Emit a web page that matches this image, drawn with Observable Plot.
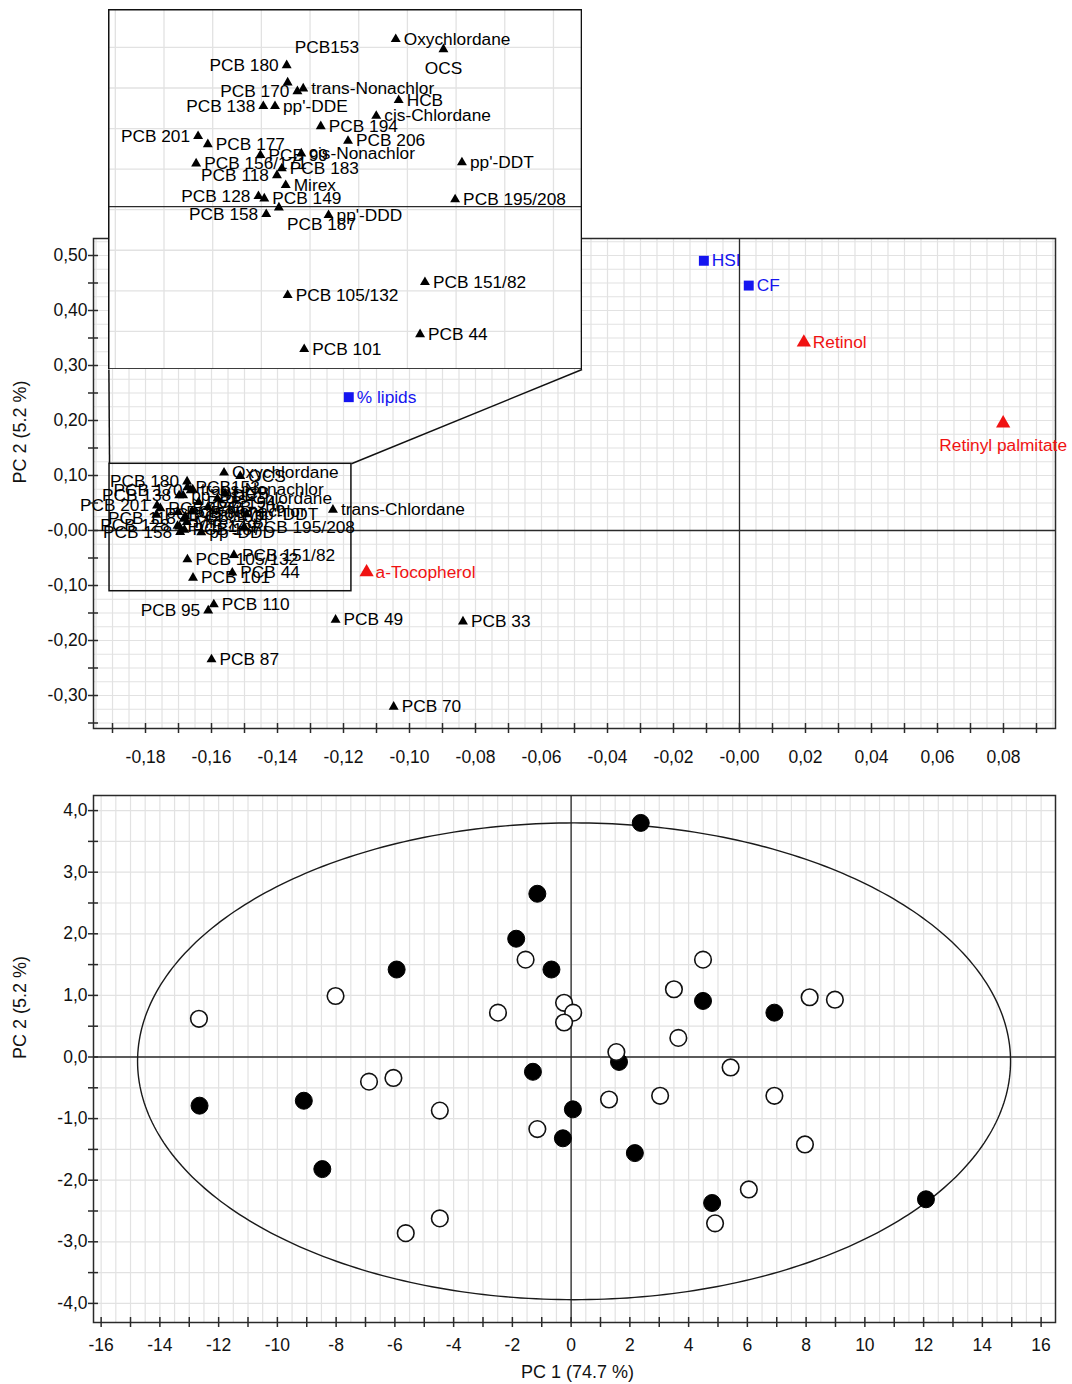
<!DOCTYPE html>
<html>
<head>
<meta charset="utf-8">
<script src="https://cdn.jsdelivr.net/npm/d3@7"></script>
<script src="https://cdn.jsdelivr.net/npm/@observablehq/plot@0.6"></script>
<style>
  body { margin: 0; background: #fff; }
  #wrap { position: relative; width: 1072px; height: 1384px; overflow: hidden; }
  #top, #inset, #bottom { position: absolute; }
  #top { left: 0; top: 0; }
  #bottom { left: 0; top: 775px; }
</style>
</head>
<body>
<div id="wrap"><div id="top"></div><div id="inset"></div><div id="bottom"></div></div>
<script>
// ---------------- DATA ----------------
// Loadings: clustered organochlorines (shown in the inset)
const clusterNames = ["Oxychlordane","OCS","PCB 180","PCB153","PCB 170","trans-Nonachlor","PCB 138","pp'-DDE","HCB","cis-Chlordane","PCB 194","PCB 206","PCB 201","PCB 177","PCB 156/171","PCB 99","cis-Nonachlor","PCB 118","PCB 183","Mirex","PCB 128","PCB 149","PCB 187","PCB 158","pp'-DDD","pp'-DDT","PCB 195/208","PCB 105/132","PCB 151/82","PCB 44","PCB 101"];
const clusterPC1 = [-0.1562,-0.1513,-0.1674,-0.1673,-0.1663,-0.1657,-0.1698,-0.1686,-0.1559,-0.1582,-0.1639,-0.1611,-0.1765,-0.1755,-0.1767,-0.1701,-0.1659,-0.1684,-0.1679,-0.1675,-0.1703,-0.1697,-0.1682,-0.1695,-0.1631,-0.1494,-0.1501,-0.1673,-0.1532,-0.1537,-0.1656];
const clusterPC2 = [0.1051,0.0989,0.0890,0.0784,0.0730,0.0747,0.0638,0.0638,0.0675,0.0578,0.0514,0.0424,0.0453,0.0403,0.0284,0.0336,0.0346,0.0212,0.0254,0.0151,0.0083,0.0069,0.0013,-0.0028,-0.0034,0.0291,0.0063,-0.0527,-0.0447,-0.0768,-0.0860];
const clusterInsetSide = ["r","b","l","ar","l","r","l","r","r","r","r","r","l","r","r","r","r","l","r","r","l","r","br","l","r","r","r","r","r","r","r"];
// Loadings: other organochlorines
const otherNames = ["trans-Chlordane","PCB 95","PCB 110","PCB 49","PCB 33","PCB 87","PCB 70"];
const otherPC1 = [-0.1232,-0.1610,-0.1593,-0.1224,-0.0838,-0.1600,-0.1048];
const otherPC2 = [0.0376,-0.1455,-0.1345,-0.1624,-0.1655,-0.2345,-0.3206];
const otherSide = ["r","l","r","r","r","r","r"];
// Loadings: biometric variables (blue squares)
const bioNames = ["HSI","CF","% lipids"];
const bioPC1 = [-0.0108,0.0028,-0.1184];
const bioPC2 = [0.4904,0.4453,0.2424];
// Loadings: vitamins (red triangles)
const vitNames = ["Retinol","Retinyl palmitate","a-Tocopherol"];
const vitPC1 = [0.0195,0.0799,-0.1130];
const vitPC2 = [0.3420,0.1949,-0.0758];
const vitSide = ["r","b","r"];

// Zoom box (main chart) and inset placement, in loading units
const zoomBoxPC1 = [-0.1909, -0.1176];
const zoomBoxPC2 = [-0.1104, 0.1213];
const insetPlacePC1 = [-0.1911, -0.0477];
const insetPlacePC2 = [0.2927, 0.9467];
const insetDomainPC1 = [-0.1857, -0.1371];
const insetDomainPC2 = [-0.0983, 0.1234];

// Scores (bottom chart)
const filledPC1 = [2.37,-1.15,-1.87,-0.67,-5.94,4.49,6.92,1.63,-1.30,0.06,-0.28,2.17,-12.65,-9.10,-8.47,4.80,12.08];
const filledPC2 = [3.80,2.65,1.92,1.42,1.42,0.91,0.72,-0.08,-0.24,-0.85,-1.32,-1.56,-0.79,-0.71,-1.82,-2.37,-2.31];
const openPC1 = [-12.67,-8.02,-2.49,-1.55,-0.24,0.07,-0.24,4.49,3.50,3.65,8.12,8.98,1.54,5.43,-6.88,-6.05,-4.47,1.29,3.03,-1.15,6.92,7.96,6.05,4.90,-4.47,-5.63];
const openPC2 = [0.62,0.99,0.72,1.58,0.88,0.72,0.56,1.58,1.10,0.31,0.97,0.93,0.08,-0.17,-0.40,-0.34,-0.87,-0.69,-0.63,-1.17,-0.63,-1.42,-2.15,-2.70,-2.62,-2.86];
// Hotelling ellipse
const ellipseCenter = [0.1, -0.07];
const ellipseRadii = [14.86, 3.87];

// Ticks
const topXTickValues = [-0.18,-0.16,-0.14,-0.12,-0.10,-0.08,-0.06,-0.04,-0.02,0,0.02,0.04,0.06,0.08];
const topXTickLabels = ["-0,18","-0,16","-0,14","-0,12","-0,10","-0,08","-0,06","-0,04","-0,02","-0,00","0,02","0,04","0,06","0,08"];
const topYTickValues = [0.5,0.4,0.3,0.2,0.1,0,-0.1,-0.2,-0.3];
const topYTickLabels = ["0,50","0,40","0,30","0,20","0,10","-0,00","-0,10","-0,20","-0,30"];
const bottomXTickValues = [-16,-14,-12,-10,-8,-6,-4,-2,0,2,4,6,8,10,12,14,16];
const bottomXTickLabels = ["-16","-14","-12","-10","-8","-6","-4","-2","0","2","4","6","8","10","12","14","16"];
const bottomYTickValues = [4,3,2,1,0,-1,-2,-3,-4];
const bottomYTickLabels = ["4,0","3,0","2,0","1,0","0,0","-1,0","-2,0","-3,0","-4,0"];
const yTitle = "PC 2 (5.2 %)";
const xTitle = "PC 1 (74.7 %)";

// ---------------- STYLE ----------------
const fontFamily = "'Liberation Sans', Arial, Helvetica, sans-serif";
const axisColor = "#2a2a2a";
const gridColor = "#e2e2e2";
const labelSize = 17.3;
const tickFont = 17.5;
const blue = "#1414f0";
const red = "#f01212";

const topXMinor = d3.range(-19, 10).map(i => i / 100);
const topYMinor = d3.range(-7, 11).map(i => i * 0.05);
const topXGrid = d3.range(-39, 20).map(i => i * 0.005);
const topYGrid = d3.range(-14, 22).map(i => i * 0.025);
const botXMinor = d3.range(-16, 17);
const botYMinor = d3.range(-8, 9).map(i => i * 0.5);
const botXGrid = d3.range(-32, 34).map(i => i * 0.5);
const botYGrid = d3.range(-8, 9).map(i => i * 0.5);

const cluster = clusterNames.map((name, i) => ({name, x: clusterPC1[i], y: clusterPC2[i], inset: clusterInsetSide[i], side: clusterInsetSide[i] === "l" ? "l" : "r"}));
const others = otherNames.map((name, i) => ({name, x: otherPC1[i], y: otherPC2[i], side: otherSide[i]}));
const blackAll = cluster.concat(others);
const bio = bioNames.map((name, i) => ({name, x: bioPC1[i], y: bioPC2[i], side: "r"}));
const vit = vitNames.map((name, i) => ({name, x: vitPC1[i], y: vitPC2[i], side: vitSide[i]}));

const placement = {
  r: {textAnchor: "start", dx: 8, dy: 0},
  l: {textAnchor: "end", dx: -8, dy: 0},
  b: {textAnchor: "middle", dx: 0, dy: 20},
  ar: {textAnchor: "start", dx: 7, dy: -35},
  br: {textAnchor: "start", dx: 8, dy: 17}
};
function labels(data, key, fill, extra = {}) {
  return Object.entries(placement).map(([k, c]) =>
    Plot.text(data.filter(d => d[key] === k), {x: "x", y: "y", text: "name", fill, fontSize: labelSize, ...c, ...(extra[k] || {})}));
}

// ---------------- TOP CHART (loadings) ----------------
const topChart = Plot.plot({
  width: 1072, height: 775,
  marginLeft: 93, marginRight: 17, marginTop: 238, marginBottom: 47,
  style: {fontFamily, background: "white", overflow: "visible"},
  x: {domain: [-0.19576, 0.09576], axis: null},
  y: {domain: [-0.36, 0.5309], axis: null},
  marks: [
    Plot.gridX(topXGrid, {stroke: gridColor, strokeOpacity: 1, strokeWidth: 1.2}),
    Plot.gridY(topYGrid, {stroke: gridColor, strokeOpacity: 1, strokeWidth: 1.2}),
    Plot.ruleX([0], {stroke: axisColor, strokeWidth: 1.3}),
    Plot.ruleY([0], {stroke: axisColor, strokeWidth: 1.3}),
    Plot.frame({stroke: axisColor, strokeWidth: 1.5}),
    Plot.rect([{}], {x1: zoomBoxPC1[0], x2: zoomBoxPC1[1], y1: zoomBoxPC2[0], y2: zoomBoxPC2[1], fill: "none", stroke: "#111", strokeWidth: 1.5}),
    Plot.link([
      {x1: zoomBoxPC1[1], y1: zoomBoxPC2[1], x2: insetPlacePC1[1], y2: insetPlacePC2[0]},
      {x1: zoomBoxPC1[0], y1: zoomBoxPC2[1], x2: insetPlacePC1[0], y2: insetPlacePC2[0]}
    ], {x1: "x1", y1: "y1", x2: "x2", y2: "y2", stroke: "#111", strokeWidth: 1.5}),
    Plot.dot(blackAll, {x: "x", y: "y", symbol: "triangle", r: 3.7, fill: "#000"}),
    Plot.dot(bio, {x: "x", y: "y", symbol: "square", r: 5.6, fill: blue}),
    Plot.dot(vit, {x: "x", y: "y", symbol: "triangle", r: 5.3, fill: red}),
    ...labels(blackAll, "side", "#000"),
    ...labels(bio, "side", blue),
    ...labels(vit, "side", red, {b: {dy: 22}, r: {dx: 9}}),
    Plot.axisX(topXMinor, {anchor: "bottom", tickSize: 10, dy: -5, fill: "none", label: null, stroke: axisColor, strokeWidth: 1.5}),
    Plot.axisY(topYMinor, {anchor: "left", tickSize: 10, dx: 5, fill: "none", label: null, stroke: axisColor, strokeWidth: 1.5}),
    Plot.text(topXTickValues, {x: d => d, text: (d, i) => topXTickLabels[i], frameAnchor: "bottom", lineAnchor: "middle", dy: 29, fontSize: tickFont, fill: "#111", style: "letter-spacing:0.6px"}),
    Plot.text(topYTickValues, {y: d => d, text: (d, i) => topYTickLabels[i], frameAnchor: "left", lineAnchor: "middle", dx: -6, textAnchor: "end", fontSize: tickFont, fill: "#111"}),
    Plot.text([yTitle], {text: d => d, frameAnchor: "left", lineAnchor: "middle", dx: -73, rotate: -90, fontSize: 18, fill: "#111"})
  ]
});
document.getElementById("top").appendChild(topChart);

// ---------------- INSET ----------------
const xs = topChart.scale("x"), ys = topChart.scale("y");
const insetLeft = xs.apply(insetPlacePC1[0]);
const insetRight = xs.apply(insetPlacePC1[1]);
const insetTop = ys.apply(insetPlacePC2[1]);
const insetBottom = ys.apply(insetPlacePC2[0]);
const insetW = insetRight - insetLeft, insetH = insetBottom - insetTop;
const insetEl = document.getElementById("inset");
insetEl.style.left = insetLeft + "px";
insetEl.style.top = insetTop + "px";

const insetInsideX = d => d.x >= insetDomainPC1[0] && d.x <= insetDomainPC1[1];
const insetData = cluster.filter(insetInsideX);
const insetXGrid = topXGrid.filter(v => v > insetDomainPC1[0] && v < insetDomainPC1[1]);
const insetYGrid = topYGrid.filter(v => v > insetDomainPC2[0] && v < insetDomainPC2[1]);
const insetChart = Plot.plot({
  width: insetW, height: insetH,
  margin: 0,
  style: {fontFamily, background: "white"},
  x: {domain: insetDomainPC1, axis: null},
  y: {domain: insetDomainPC2, axis: null},
  marks: [
    Plot.gridX(insetXGrid, {stroke: gridColor, strokeOpacity: 1, strokeWidth: 1.3}),
    Plot.gridY(insetYGrid, {stroke: gridColor, strokeOpacity: 1, strokeWidth: 1.3}),
    Plot.ruleY([0], {stroke: axisColor, strokeWidth: 1.3, dy: -3}),
    Plot.dot(insetData, {x: "x", y: "y", symbol: "triangle", r: 3.7, fill: "#000"}),
    ...labels(insetData, "inset", "#000", {b: {dy: 19}}),
    Plot.frame({stroke: "#111", strokeWidth: 2})
  ]
});
insetEl.appendChild(insetChart);

// ---------------- BOTTOM CHART (scores) ----------------
const filled = filledPC1.map((x, i) => ({x, y: filledPC2[i]}));
const open = openPC1.map((x, i) => ({x, y: openPC2[i]}));
const ellipse = d3.range(0, 361, 1).map(a => ({
  x: ellipseCenter[0] + ellipseRadii[0] * Math.cos(a * Math.PI / 180),
  y: ellipseCenter[1] + ellipseRadii[1] * Math.sin(a * Math.PI / 180)
}));

const bottomChart = Plot.plot({
  width: 1072, height: 609,
  marginLeft: 93, marginRight: 17, marginTop: 20, marginBottom: 62,
  style: {fontFamily, background: "white", overflow: "visible"},
  x: {domain: [-16.26, 16.49], axis: null},
  y: {domain: [-4.31, 4.245], axis: null},
  marks: [
    Plot.gridX(botXGrid.filter(v => v > -16.26 && v < 16.49), {stroke: gridColor, strokeOpacity: 1, strokeWidth: 1.2}),
    Plot.gridY(botYGrid, {stroke: gridColor, strokeOpacity: 1, strokeWidth: 1.2}),
    Plot.ruleX([0], {stroke: axisColor, strokeWidth: 1.3}),
    Plot.ruleY([0], {stroke: axisColor, strokeWidth: 1.3}),
    Plot.frame({stroke: axisColor, strokeWidth: 1.5}),
    Plot.line(ellipse, {x: "x", y: "y", stroke: "#1a1a1a", strokeWidth: 1.4}),
    Plot.dot(filled, {x: "x", y: "y", r: 8.5, fill: "#000", stroke: "#000", strokeWidth: 1}),
    Plot.dot(open, {x: "x", y: "y", r: 8.3, fill: "#fff", stroke: "#111", strokeWidth: 1.6}),
    Plot.axisX(botXMinor, {anchor: "bottom", tickSize: 10, dy: -5, fill: "none", label: null, stroke: axisColor, strokeWidth: 1.5}),
    Plot.axisY(botYMinor, {anchor: "left", tickSize: 10, dx: 5, fill: "none", label: null, stroke: axisColor, strokeWidth: 1.5}),
    Plot.text(bottomXTickValues, {x: d => d, text: (d, i) => bottomXTickLabels[i], frameAnchor: "bottom", lineAnchor: "middle", dy: 23, fontSize: tickFont, fill: "#111"}),
    Plot.text(bottomYTickValues, {y: d => d, text: (d, i) => bottomYTickLabels[i], frameAnchor: "left", lineAnchor: "middle", dx: -6, textAnchor: "end", fontSize: tickFont, fill: "#111"}),
    Plot.text([yTitle], {text: d => d, frameAnchor: "left", lineAnchor: "middle", dx: -73, rotate: -90, fontSize: 18, fill: "#111"}),
    Plot.text([xTitle], {text: d => d, frameAnchor: "bottom", lineAnchor: "middle", dx: 3, dy: 50, fontSize: 18, fill: "#111"})
  ]
});
document.getElementById("bottom").appendChild(bottomChart);
</script>
</body>
</html>
